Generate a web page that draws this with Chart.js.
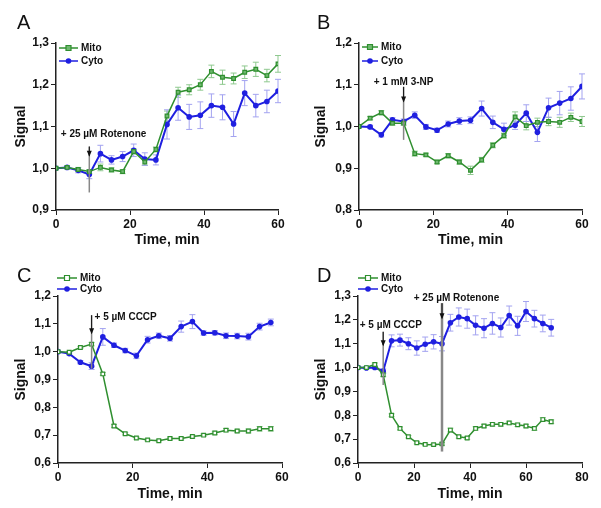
<!DOCTYPE html>
<html>
<head>
<meta charset="utf-8">
<script src="https://cdn.jsdelivr.net/npm/chart.js@4"></script>
<style>
  body { margin: 0; background: #fff; }
  #wrap { position: relative; width: 601px; height: 508px; overflow: hidden; }
  .panel { position: absolute; width: 300px; height: 254px; }
  .letter { position: absolute; font: 20px "Liberation Sans", Arial, sans-serif; color: #111; }
</style>
</head>
<body>
<div id="wrap">
  <div class="panel" style="left:0;top:0"><canvas id="chartA" width="300" height="254"></canvas></div>
  <div class="panel" style="left:300px;top:0"><canvas id="chartB" width="300" height="254"></canvas></div>
  <div class="panel" style="left:0;top:254px"><canvas id="chartC" width="300" height="254"></canvas></div>
  <div class="panel" style="left:300px;top:254px"><canvas id="chartD" width="300" height="254"></canvas></div>
  <div class="letter" style="left:17px;top:11px">A</div>
  <div class="letter" style="left:317px;top:11px">B</div>
  <div class="letter" style="left:17px;top:264px">C</div>
  <div class="letter" style="left:317px;top:264px">D</div>
</div>
<script>
// 数据：时间点 (min)
const timeA = [0, 3, 6, 9, 12, 15, 18, 21, 24, 27, 30, 33, 36, 39, 42, 45, 48, 51, 54, 57, 60];
const mitoA = [1.0, 1.002, 0.997, 0.992, 1.002, 0.996, 0.992, 1.04, 1.015, 1.045, 1.125, 1.182, 1.188, 1.2, 1.232, 1.218, 1.215, 1.23, 1.237, 1.222, 1.25];
const mitoErrA = [0, 0.003, 0.005, 0.005, 0.008, 0.005, 0.005, 0.006, 0.008, 0.006, 0.012, 0.012, 0.012, 0.013, 0.015, 0.017, 0.013, 0.015, 0.017, 0.015, 0.02];
const cytoA = [1.0, 1.002, 0.995, 0.985, 1.035, 1.02, 1.028, 1.043, 1.022, 1.02, 1.105, 1.145, 1.123, 1.127, 1.15, 1.146, 1.106, 1.18, 1.15, 1.16, 1.185];
const cytoErrA = [0, 0.003, 0.006, 0.01, 0.02, 0.01, 0.012, 0.015, 0.015, 0.012, 0.035, 0.03, 0.03, 0.032, 0.028, 0.03, 0.03, 0.03, 0.027, 0.027, 0.028];

const timeB = [0, 3, 6, 9, 12, 15, 18, 21, 24, 27, 30, 33, 36, 39, 42, 45, 48, 51, 54, 57, 60];
const mitoB = [1.0, 1.02, 1.033, 1.008, 1.008, 0.935, 0.932, 0.915, 0.93, 0.915, 0.895, 0.92, 0.955, 0.978, 1.023, 1.002, 1.01, 1.012, 1.01, 1.022, 1.012];
const mitoErrB = [0, 0.004, 0.005, 0.005, 0.005, 0.006, 0.004, 0.004, 0.005, 0.005, 0.01, 0.006, 0.006, 0.006, 0.012, 0.01, 0.01, 0.01, 0.012, 0.01, 0.012];
const cytoB = [1.0, 0.999, 0.98, 1.016, 1.012, 1.027, 0.999, 0.991, 1.006, 1.013, 1.015, 1.043, 1.01, 0.993, 1.003, 1.032, 0.986, 1.045, 1.056, 1.067, 1.096];
const cytoErrB = [0, 0.004, 0.005, 0.005, 0.006, 0.008, 0.006, 0.005, 0.007, 0.008, 0.008, 0.018, 0.015, 0.015, 0.01, 0.02, 0.022, 0.023, 0.028, 0.028, 0.03];

const timeC = [0, 3, 6, 9, 12, 15, 18, 21, 24, 27, 30, 33, 36, 39, 42, 45, 48, 51, 54, 57];
const mitoC = [1.0, 0.998, 1.015, 1.027, 0.92, 0.733, 0.705, 0.69, 0.683, 0.68, 0.688, 0.688, 0.695, 0.7, 0.708, 0.718, 0.715, 0.715, 0.723, 0.723];
const mitoErrC = [0, 0.003, 0.004, 0.006, 0.005, 0.005, 0.004, 0.004, 0.004, 0.004, 0.005, 0.005, 0.005, 0.005, 0.006, 0.006, 0.006, 0.007, 0.008, 0.008];
const cytoC = [1.0, 0.993, 0.962, 0.948, 1.053, 1.023, 1.004, 0.985, 1.043, 1.057, 1.048, 1.09, 1.108, 1.067, 1.068, 1.057, 1.056, 1.054, 1.09, 1.105];
const cytoErrC = [0, 0.005, 0.006, 0.012, 0.03, 0.008, 0.008, 0.01, 0.012, 0.01, 0.01, 0.02, 0.025, 0.008, 0.008, 0.01, 0.01, 0.012, 0.012, 0.012];

const timeD = [0, 3, 6, 9, 12, 15, 18, 21, 24, 27, 30, 33, 36, 39, 42, 45, 48, 51, 54, 57, 60, 63, 66, 69];
const mitoD = [1.0, 1.0, 1.013, 0.97, 0.8, 0.745, 0.71, 0.685, 0.678, 0.677, 0.68, 0.738, 0.71, 0.705, 0.745, 0.755, 0.762, 0.762, 0.768, 0.76, 0.755, 0.745, 0.782, 0.773];
const mitoErrD = [0, 0.004, 0.006, 0.008, 0.006, 0.006, 0.005, 0.005, 0.005, 0.005, 0.006, 0.008, 0.006, 0.006, 0.007, 0.007, 0.007, 0.007, 0.007, 0.007, 0.007, 0.008, 0.008, 0.008];
const cytoD = [1.0, 0.998, 1.0, 0.985, 1.112, 1.115, 1.1, 1.082, 1.098, 1.108, 1.1, 1.188, 1.212, 1.205, 1.177, 1.165, 1.185, 1.168, 1.218, 1.175, 1.235, 1.205, 1.185, 1.167];
const cytoErrD = [0, 0.005, 0.006, 0.01, 0.025, 0.025, 0.025, 0.03, 0.03, 0.03, 0.03, 0.035, 0.038, 0.04, 0.04, 0.04, 0.045, 0.04, 0.04, 0.04, 0.042, 0.035, 0.035, 0.035];

const seriesNames = ['Mito', 'Cyto'];

const FONT = '"Liberation Sans", Arial, sans-serif';
const GREEN = '#2f8f2f';
const BLUE = '#1f1fe0';
const GREEN_ERR = '#8fc98f';
const BLUE_ERR = '#a3a3f0';

function pts(xs, ys) {
    return xs.map((x, i) => ({ x: x, y: ys[i] }));
}

// 误差线
const errorBarPlugin = {
    id: 'errorBars',
    beforeDatasetsDraw(chart) {
        const ctx = chart.ctx;
        const yScale = chart.scales.y;
        chart.data.datasets.forEach((ds, di) => {
            const meta = chart.getDatasetMeta(di);
            ctx.save();
            ctx.strokeStyle = ds.errColor;
            ctx.lineWidth = 1;
            meta.data.forEach((pt, i) => {
                const e = ds.errors[i];
                if (!e) return;
                const v = ds.data[i].y;
                const yTop = yScale.getPixelForValue(v + e);
                const yBot = yScale.getPixelForValue(v - e);
                ctx.beginPath();
                ctx.moveTo(pt.x, yTop); ctx.lineTo(pt.x, yBot);
                ctx.moveTo(pt.x - 3, yTop); ctx.lineTo(pt.x + 3, yTop);
                ctx.moveTo(pt.x - 3, yBot); ctx.lineTo(pt.x + 3, yBot);
                ctx.stroke();
            });
            ctx.restore();
        });
    }
};

// 图例和箭头注释
const notesPlugin = {
    id: 'notes',
    afterDraw(chart, args, opts) {
        const ctx = chart.ctx;
        const xs = chart.scales.x, ys = chart.scales.y;
        ctx.save();
        // arrows
        (opts.arrows || []).forEach(a => {
            const px = xs.getPixelForValue(a.x);
            const yTop = ys.getPixelForValue(a.top);
            const yBot = ys.getPixelForValue(a.bottom);
            const yHead = ys.getPixelForValue(a.head);
            ctx.strokeStyle = '#888';
            ctx.lineWidth = a.width || 1.5;
            ctx.beginPath();
            ctx.moveTo(px, yTop); ctx.lineTo(px, yBot);
            ctx.stroke();
            ctx.strokeStyle = '#111';
            ctx.lineWidth = 1;
            ctx.beginPath();
            ctx.moveTo(px, yTop); ctx.lineTo(px, yHead);
            ctx.stroke();
            ctx.fillStyle = '#111';
            ctx.beginPath();
            ctx.moveTo(px, yHead + 1);
            ctx.lineTo(px - 2.5, yHead - 5);
            ctx.lineTo(px + 2.5, yHead - 5);
            ctx.closePath();
            ctx.fill();
            ctx.font = 'bold 10px ' + FONT;
            ctx.textAlign = a.align || 'left';
            ctx.textBaseline = 'alphabetic';
            ctx.fillText(a.label, xs.getPixelForValue(a.labelX), ys.getPixelForValue(a.labelY));
        });
        // legend
        const lg = opts.legend;
        chart.data.datasets.forEach((ds, i) => {
            const y = lg.y[i];
            ctx.strokeStyle = ds.borderColor;
            ctx.lineWidth = 1.5;
            ctx.beginPath();
            ctx.moveTo(lg.x0, y); ctx.lineTo(lg.x1, y);
            ctx.stroke();
            const cx = (lg.x0 + lg.x1) / 2;
            ctx.beginPath();
            if (ds.pointStyle === 'rect') {
                ctx.fillStyle = ds.pointBackgroundColor;
                ctx.rect(cx - 2.5, y - 2.5, 5, 5);
                ctx.fill();
                ctx.lineWidth = 1.2;
                ctx.stroke();
            } else {
                ctx.fillStyle = ds.borderColor;
                ctx.arc(cx, y, 2.8, 0, Math.PI * 2);
                ctx.fill();
            }
            ctx.fillStyle = '#111';
            ctx.font = 'bold 10px ' + FONT;
            ctx.textAlign = 'left';
            ctx.textBaseline = 'middle';
            ctx.fillText(ds.label, lg.x1 + 3, y + 0.5);
        });
        ctx.restore();
    }
};

function makePanel(id, p) {
    const ctx = document.getElementById(id).getContext('2d');
    return new Chart(ctx, {
        type: 'line',
        data: {
            datasets: [{
                label: seriesNames[0],
                data: pts(p.time, p.mito),
                errors: p.mitoErr,
                errColor: GREEN_ERR,
                borderColor: GREEN,
                borderWidth: 1.5,
                pointStyle: 'rect',
                pointRadius: 2.6,
                pointBorderWidth: 1.2,
                pointBackgroundColor: p.mitoFill,
                pointBorderColor: GREEN,
                tension: 0
            }, {
                label: seriesNames[1],
                data: pts(p.time, p.cyto),
                errors: p.cytoErr,
                errColor: BLUE_ERR,
                borderColor: BLUE,
                borderWidth: 2,
                pointStyle: 'circle',
                pointRadius: 2.8,
                pointBorderWidth: 0,
                pointBackgroundColor: BLUE,
                tension: 0
            }]
        },
        options: {
            responsive: false,
            animation: false,
            devicePixelRatio: 1,
            layout: { padding: { left: 13, right: 300 - p.area.right, top: p.area.top, bottom: 5 } },
            plugins: {
                legend: { display: false },
                tooltip: { enabled: false },
                notes: { legend: p.legend, arrows: p.arrows }
            },
            scales: {
                x: {
                    type: 'linear',
                    min: 0, max: p.xMax,
                    afterFit: s => { s.height = 254 - p.area.bottom - 5; },
                    ticks: { stepSize: p.xStep, color: '#111', padding: 2, font: { family: FONT, size: 12, weight: 'bold' } },
                    grid: { drawOnChartArea: false, drawTicks: true, tickLength: 5, color: '#222' },
                    border: { color: '#222', width: 1.5 },
                    title: { display: true, text: 'Time, min', color: '#111', padding: 0, font: { family: FONT, size: 14, weight: 'bold' } }
                },
                y: {
                    min: p.yMin, max: p.yMax,
                    afterFit: s => { s.width = p.area.left - 13; },
                    ticks: {
                        stepSize: 0.1, color: '#111', padding: 2,
                        font: { family: FONT, size: 12, weight: 'bold' },
                        callback: v => v.toFixed(1).replace('.', ',')
                    },
                    grid: { drawOnChartArea: false, drawTicks: true, tickLength: 5, color: '#222' },
                    border: { color: '#222', width: 1.5 },
                    title: { display: true, text: 'Signal', color: '#111', padding: 0, font: { family: FONT, size: 14, weight: 'bold' } }
                }
            }
        },
        plugins: [errorBarPlugin, notesPlugin]
    });
}

makePanel('chartA', {
    time: timeA, mito: mitoA, mitoErr: mitoErrA, cyto: cytoA, cytoErr: cytoErrA, mitoFill: '#6fb86f',
    xMax: 60, xStep: 20, yMin: 0.9, yMax: 1.3,
    area: { left: 56, right: 278, top: 43, bottom: 210 },
    legend: { x0: 59, x1: 78, y: [48, 61] },
    arrows: [{ x: 9, top: 1.052, head: 1.03, bottom: 0.942, label: '+ 25 \u00b5M Rotenone', labelX: 1.3, labelY: 1.075 }]
});

makePanel('chartB', {
    time: timeB, mito: mitoB, mitoErr: mitoErrB, cyto: cytoB, cytoErr: cytoErrB, mitoFill: '#6fb86f',
    xMax: 60, xStep: 20, yMin: 0.8, yMax: 1.2,
    area: { left: 59, right: 282, top: 43, bottom: 210 },
    legend: { x0: 62, x1: 78, y: [47, 61] },
    arrows: [{ x: 12, top: 1.095, head: 1.06, bottom: 0.968, label: '+ 1 mM 3-NP', labelX: 12, labelY: 1.1, align: 'center' }]
});

makePanel('chartC', {
    time: timeC, mito: mitoC, mitoErr: mitoErrC, cyto: cytoC, cytoErr: cytoErrC, mitoFill: '#fff',
    xMax: 60, xStep: 20, yMin: 0.6, yMax: 1.2,
    area: { left: 58, right: 282, top: 42, bottom: 209 },
    legend: { x0: 57, x1: 77, y: [24, 35] },
    arrows: [{ x: 9, top: 1.131, head: 1.066, bottom: 0.939, label: '+ 5 \u00b5M CCCP', labelX: 9.8, labelY: 1.112 }]
});

makePanel('chartD', {
    time: timeD, mito: mitoD, mitoErr: mitoErrD, cyto: cytoD, cytoErr: cytoErrD, mitoFill: '#fff',
    xMax: 80, xStep: 20, yMin: 0.6, yMax: 1.3,
    area: { left: 58, right: 282, top: 42, bottom: 209 },
    legend: { x0: 58, x1: 78, y: [24, 35] },
    arrows: [
        { x: 9, top: 1.15, head: 1.094, bottom: 0.927, label: '+ 5 \u00b5M CCCP', labelX: 0.6, labelY: 1.164 },
        { x: 30, top: 1.27, head: 1.207, bottom: 0.648, width: 2.5, label: '+ 25 \u00b5M Rotenone', labelX: 19.9, labelY: 1.278 }
    ]
});
</script>
</body>
</html>
